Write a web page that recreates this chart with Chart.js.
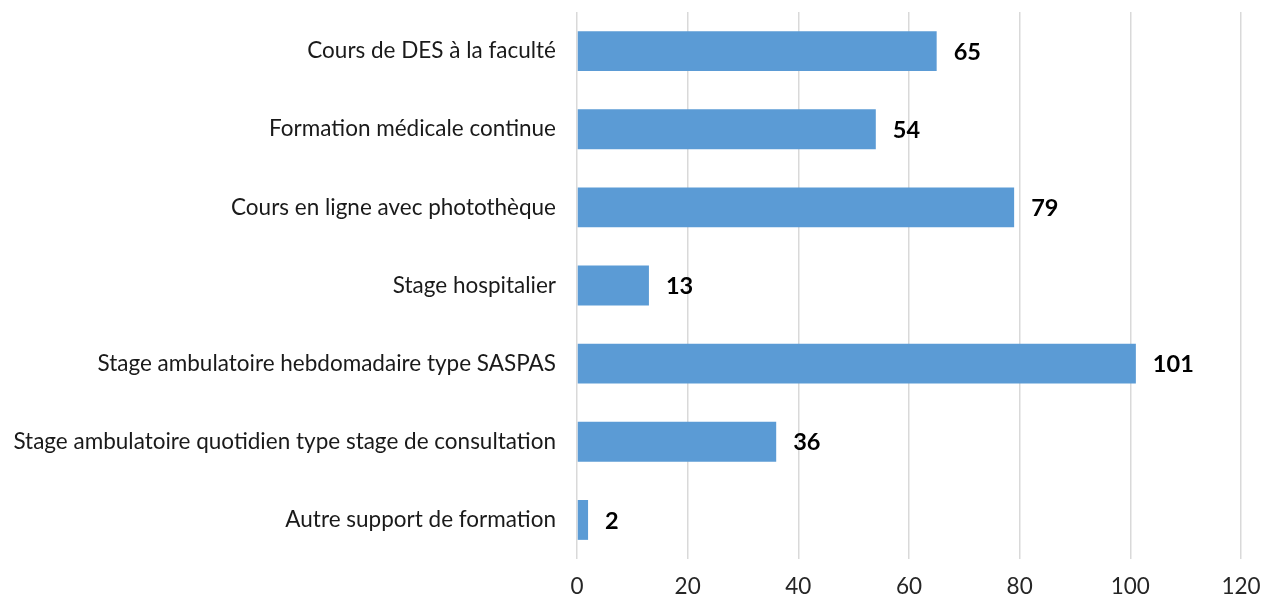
<!DOCTYPE html>
<html lang="fr">
<head>
  <meta charset="UTF-8" />
  <title>Supports de formation</title>
  <style>
    body { margin:0; background:#fff; }
    #wrap { width:1263px; height:601px; }
  </style>
  <script src="https://cdn.jsdelivr.net/npm/chart.js"></script>
</head>
<body>
  <div id="wrap"><canvas id="barChart" width="1263" height="601"></canvas></div>
  <script>
    const labels = [
      'Cours de DES à la faculté',
      'Formation médicale continue',
      'Cours en ligne avec photothèque',
      'Stage hospitalier',
      'Stage ambulatoire hebdomadaire type SASPAS',
      'Stage ambulatoire quotidien type stage de consultation',
      'Autre support de formation'
    ];
    const values = [65, 54, 79, 13, 101, 36, 2];
    const xTicks = [0, 20, 40, 60, 80, 100, 120];

    const FONT = 'Lato, "Open Sans", sans-serif';

    // labels de valeur à droite des barres
    const valueLabels = {
      id: 'valueLabels',
      afterDatasetsDraw(chart) {
        const ctx = chart.ctx;
        const meta = chart.getDatasetMeta(0);
        ctx.save();
        ctx.font = 'bold 23.5px ' + FONT;
        ctx.fillStyle = '#000';
        ctx.textBaseline = 'middle';
        ctx.textAlign = 'left';
        meta.data.forEach((bar, i) => {
          ctx.fillText(String(values[i]), bar.x + 17, bar.y + 1);
        });
        ctx.restore();
      }
    };

    new Chart(document.getElementById('barChart'), {
      type: 'bar',
      data: {
        labels: labels,
        datasets: [{
          data: values,
          backgroundColor: '#5b9bd5',
          borderWidth: 0,
          barPercentage: 0.51,
          categoryPercentage: 1
        }]
      },
      options: {
        indexAxis: 'y',
        responsive: false,
        animation: false,
        layout: { padding: { top: 12, right: 22, left: 0, bottom: 0 } },
        plugins: { legend: { display: false }, tooltip: { enabled: false } },
        scales: {
          x: {
            min: 0, max: 120,
            afterBuildTicks(scale) { scale.ticks = xTicks.map(v => ({ value: v })); },
            afterFit(scale) {
              scale.height = 42;
              scale.paddingLeft = 0; scale.paddingRight = 0;
            },
            grid: { color: '#d9d9d9', lineWidth: 1.5, drawTicks: false },
            border: { display: false },
            ticks: { color: '#262626', padding: 14, font: { family: FONT, size: 22.5 } }
          },
          y: {
            grid: { display: false, drawTicks: false },
            border: { display: false },
            afterFit(scale) {
              scale.width = 577;
              scale.paddingTop = 0; scale.paddingBottom = 0;
            },
            ticks: { color: '#1a1a1a', padding: 21, font: { family: FONT, size: 22.5 } }
          }
        }
      },
      plugins: [valueLabels]
    });
  </script>
</body>
</html>
